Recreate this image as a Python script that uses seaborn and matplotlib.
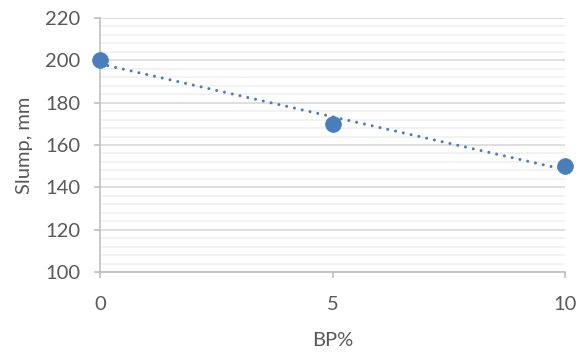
import matplotlib
matplotlib.use("Agg")
import matplotlib.pyplot as plt
from matplotlib.ticker import MultipleLocator
import seaborn as sns
import pandas as pd

bp_pct = [0, 5, 10]
slump_mm = [200, 170, 150]

x_ticks = [0, 5, 10]
y_ticks = [100, 120, 140, 160, 180, 200, 220]

df = pd.DataFrame({"BP%": bp_pct, "Slump, mm": slump_mm})

sns.set_theme(style="white")
plt.rcParams["font.family"] = ["Lato", "DejaVu Sans"]

blue = "#4A7EBB"
text_col = "#595959"

fig = plt.figure(figsize=(5.78, 3.54), dpi=100)
ax = fig.add_axes([100 / 578, 1 - 272 / 354, 465 / 578, 254 / 354])

# linear trendline
sns.regplot(data=df, x="BP%", y="Slump, mm", ax=ax, scatter=False, ci=None,
            truncate=True,
            line_kws=dict(color=blue, lw=2.2, linestyle=(0, (0.01, 2.6)),
                          dash_capstyle="round", zorder=3))
# data points
sns.scatterplot(data=df, x="BP%", y="Slump, mm", ax=ax, color=blue, s=130,
                edgecolor=blue, linewidth=0.5, zorder=4, clip_on=False)

ax.set_xlim(0, 10)
ax.set_ylim(100, 220)
ax.set_xticks(x_ticks)
ax.set_yticks(y_ticks)
ax.yaxis.set_minor_locator(MultipleLocator(4))

ax.grid(which="major", axis="y", color="#D9D9D9", lw=1.2)
ax.grid(which="minor", axis="y", color="#F0F0F0", lw=1.2)
ax.set_axisbelow(True)

for side in ["top", "right"]:
    ax.spines[side].set_visible(False)
for side in ["left", "bottom"]:
    ax.spines[side].set_color("#BFBFBF")
    ax.spines[side].set_linewidth(1.2)

ax.tick_params(axis="both", which="major", direction="out", length=4, width=1.2,
               color="#BFBFBF", labelsize=14.5, labelcolor=text_col,
               left=True, bottom=True)
ax.tick_params(axis="y", which="major", pad=10)
ax.tick_params(axis="x", which="major", pad=13)
ax.tick_params(axis="y", which="minor", left=False)

ax.set_xlabel("BP%", fontsize=14.5, color=text_col, labelpad=14)
ax.set_ylabel("Slump, mm", fontsize=14.5, color=text_col, labelpad=9)

fig.savefig("out.png", dpi=100)
